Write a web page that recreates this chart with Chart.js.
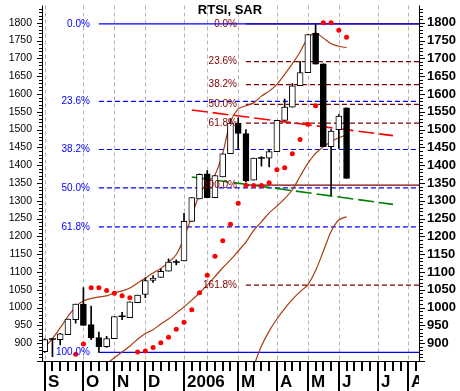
<!DOCTYPE html>
<html>
<head>
<meta charset="utf-8">
<script src="https://cdn.jsdelivr.net/npm/chart.js@4.4.1/dist/chart.umd.min.js"></script>
<style>
  html, body { margin: 0; padding: 0; background: #fff; }
  canvas { display: block; }
</style>
</head>
<body>
<canvas id="chart" width="460" height="391"></canvas>
<script>
// RTSI weekly candles, Sep 2005 - Jun 2006 (index = week)
const opens  = [876, 912, 910, 924, 966, 1010, 952, 916, 890, 913, 976, 972, 1014, 1037, 1076, 1085, 1102, 1128, 1131, 1242,
                1305, 1376, 1309, 1367, 1432, 1518, 1489, 1358, 1420, 1420, 1438, 1526, 1563, 1623, 1660, 1770, 1685, 1452, 1500, 1561];
const highs  = [912, 914, 928, 968, 1010, 1056, 1004, 931, 919, 975, 987, 1016, 1035, 1083, 1090, 1108, 1137, 1134, 1265, 1309,
                1376, 1385, 1371, 1432, 1530, 1533, 1500, 1420, 1424, 1443, 1526, 1586, 1629, 1692, 1767, 1796, 1685, 1500, 1542, 1561];
const lows   = [874, 862, 895, 924, 956, 950, 910, 874, 888, 913, 966, 972, 1014, 1028, 1071, 1085, 1102, 1120, 1131, 1242,
                1305, 1309, 1309, 1367, 1432, 1445, 1352, 1358, 1397, 1395, 1438, 1526, 1563, 1623, 1660, 1684, 1452, 1316, 1447, 1363];
const closes = [910, 912, 926, 968, 1010, 950, 915, 890, 913, 975, 976, 1016, 1035, 1076, 1083, 1102, 1128, 1128, 1242, 1309,
                1374, 1309, 1371, 1432, 1518, 1489, 1356, 1420, 1420, 1438, 1526, 1563, 1623, 1660, 1767, 1684, 1452, 1496, 1538, 1363];

// parabolic SAR
const sar = [null, null, null, null, 869, 898, 1056, 1056, 1048, 1040, 1033, 1028, 875, 878, 888, 901, 917, 939, 959, 994,
             1042, 1091, 1144, 1188, 1234, 1293, 1343, 1343, 1343, 1351, 1387, 1393, 1432, 1472, 1515, 1567, 1800, 1800, 1779, 1759];

// the three brown curves
const lineFast = [889, 913, 943, 975, 1002, 1019, 1026, 1030, 1033, 1041, 1047, 1055, 1069, 1083, 1097, 1110, 1127, 1149, 1196, 1257,
                  1318, 1351, 1373, 1434, 1522, 1558, 1567, 1575, 1594, 1608, 1627, 1655, 1685, 1718, 1757, 1771, 1757, 1741, 1734, 1730];
const lineMid  = [null, null, null, null, null, null, null, null, 843, 859, 875, 892, 911, 927, 938, 954, 968, 985, 1002, 1021,
                  1041, 1063, 1087, 1112, 1134, 1159, 1184, 1217, 1241, 1266, 1285, 1306, 1331, 1369, 1405, 1433, 1452, 1466, 1477, 1485];
const lineSlow = [null, null, null, null, null, null, null, null, null, null, null, null, null, null, null, null, null, null, null, null,
                  null, null, null, null, null, null, null, 836, 892, 934, 968, 997, 1023, 1045, 1064, 1104, 1158, 1214, 1246, 1255];

// trend lines (week, price)
const redTrend   = [{x: 19, y: 1555}, {x: 45, y: 1483}];
const greenTrend = [{x: 19, y: 1367}, {x: 45, y: 1290}];

// fibonacci levels
const blueFibLabels = ['0.0%', '23.6%', '38.2%', '50.0%', '61.8%', '100.0%'];
const blueFib       = [1797, 1579, 1444, 1336, 1227, 874];
const redFibLabels  = ['0.0%', '23.6%', '38.2%', '50.0%', '61.8%', '100.0%', '161.8%'];
const redFib        = [1797, 1691, 1626, 1571, 1518, 1344, 1063];
const blueFibStart = 7;
const redFibStart = 26;

// axes
const monthStarts = [0, 5, 9, 13, 18, 21, 25, 30, 34, 38, 43, 47];
const monthLabels = ['S', 'O', 'N', 'D', '2006', '', 'M', 'A', 'M', 'J', 'J', 'A'];
const priceTicks = [900, 950, 1000, 1050, 1100, 1150, 1200, 1250, 1300, 1350, 1400, 1450, 1500, 1550, 1600, 1650, 1700, 1750, 1800];
const weekCount = 49;

const X_MIN = -0.35, X_MAX = 48.36;
const Y_MIN = 850, Y_MAX = 1848.5;
const BROWN = '#a83c10';
const DARKRED = '#800000';

Chart.defaults.font.family = 'Arial, "Liberation Sans", sans-serif';

const weeks = closes.map((c, i) => i);
const bodies = weeks.filter(i => opens[i] !== closes[i]).map(i => ({x: i, y: [opens[i], closes[i]]}));
const dojis = weeks.filter(i => opens[i] === closes[i]).map(i => ({x: i, y: closes[i]}));
const wicks = weeks.map(i => ({x: i, y: [lows[i], highs[i]]}));
const toPoints = arr => arr.map((v, i) => ({x: i, y: v}));

function fibDatasets(levels, start, color) {
    return levels.map((lvl, k) => ({
        type: 'line',
        data: [{x: start, y: lvl}, {x: X_MAX, y: lvl}],
        borderColor: color,
        borderWidth: (k === 0 || lvl === levels[levels.length - 1] || (color === DARKRED && k === 5)) ? 1.2 : 1.2,
        borderDash: (k === 0 || (color === DARKRED ? k === 5 : k === levels.length - 1)) ? [] : [5, 3],
        pointRadius: 0,
        order: 6
    }));
}

const decor = {
    id: 'decor',
    beforeDatasetsDraw(chart) {
        const {ctx, chartArea: a} = chart;
        const x = chart.scales.x;
        ctx.save();
        ctx.strokeStyle = '#b4b4b4';
        ctx.lineWidth = 1;
        ctx.setLineDash([4, 3]);
        monthStarts.forEach(i => {
            const px = Math.round(x.getPixelForValue(i)) + 0.5;
            ctx.beginPath();
            ctx.moveTo(px, a.top);
            ctx.lineTo(px, a.bottom);
            ctx.stroke();
        });
        ctx.restore();
    },
    afterDatasetsDraw(chart) {
        const {ctx} = chart;
        const x = chart.scales.x, y = chart.scales.y;
        ctx.save();
        ctx.font = '10px Arial, "Liberation Sans"';
        ctx.textAlign = 'right';
        ctx.textBaseline = 'middle';
        ctx.fillStyle = '#0000ff';
        blueFib.forEach((v, k) => ctx.fillText(blueFibLabels[k], x.getPixelForValue(blueFibStart) - 9, y.getPixelForValue(v)));
        ctx.fillStyle = DARKRED;
        redFib.forEach((v, k) => ctx.fillText(redFibLabels[k], x.getPixelForValue(redFibStart) - 9, y.getPixelForValue(v)));
        ctx.fillStyle = '#000';
        ctx.font = 'bold 13px Arial, "Liberation Sans"';
        ctx.textAlign = 'center';
        ctx.fillText('RTSI, SAR', chart.width / 2, 10);
        ctx.restore();
    },
    afterDraw(chart) {
        const {ctx, chartArea: a} = chart;
        const x = chart.scales.x, y = chart.scales.y;
        ctx.save();
        ctx.strokeStyle = '#000';
        ctx.lineWidth = 1;
        // frame
        ctx.beginPath();
        ctx.moveTo(a.left + 0.5, a.top); ctx.lineTo(a.left + 0.5, a.bottom + 1);
        ctx.moveTo(a.right + 0.5, a.top); ctx.lineTo(a.right + 0.5, a.bottom + 1);
        ctx.moveTo(a.left, a.bottom + 0.5); ctx.lineTo(a.right + 1, a.bottom + 0.5);
        ctx.stroke();
        // price ticks every 10
        ctx.beginPath();
        for (let v = Y_MIN; v < Y_MAX; v += 10) {
            const py = Math.round(y.getPixelForValue(v)) + 0.5;
            const major = v % 50 === 0;
            ctx.moveTo(a.left - (major ? 5 : 3), py); ctx.lineTo(a.left, py);
            ctx.moveTo(a.right + 1, py); ctx.lineTo(a.right + (major ? 6 : 4), py);
        }
        ctx.stroke();
        // week ticks and month separators
        ctx.lineWidth = 2;
        ctx.beginPath();
        for (let i = 0; i < weekCount; i++) {
            const px = Math.round(x.getPixelForValue(i));
            if (px > a.right) continue;
            ctx.moveTo(px, a.bottom); ctx.lineTo(px, a.bottom + 10);
        }
        monthStarts.forEach((i, k) => {
            if (!monthLabels[k]) return;
            const px = Math.round(x.getPixelForValue(i));
            ctx.moveTo(px, a.bottom); ctx.lineTo(px, chart.height);
        });
        ctx.stroke();
        ctx.beginPath();
        ctx.rect(a.left, a.bottom, a.right - a.left, chart.height - a.bottom);
        ctx.clip();
        ctx.fillStyle = '#000';
        ctx.font = 'bold 17px Arial, "Liberation Sans"';
        ctx.textAlign = 'left';
        ctx.textBaseline = 'alphabetic';
        monthStarts.forEach((i, k) => {
            ctx.fillText(monthLabels[k], Math.round(x.getPixelForValue(i)) + 3, chart.height - 4);
        });
        ctx.restore();
    }
};

new Chart(document.getElementById('chart'), {
    type: 'bar',
    data: {
        datasets: [
            {
                type: 'line', data: toPoints(sar), showLine: false,
                pointRadius: 2.5, pointBackgroundColor: '#ff0000', pointBorderWidth: 0, order: 0
            },
            {
                type: 'line', data: dojis, showLine: false, pointStyle: 'line',
                pointRadius: 3.5, pointBorderColor: '#000', pointBorderWidth: 1.5, order: 1
            },
            {
                data: bodies, grouped: false, barThickness: 6,
                backgroundColor: c => (c.raw && c.raw.y[1] < c.raw.y[0]) ? '#000' : '#fff',
                borderColor: '#000', borderWidth: 1, borderSkipped: false, order: 2
            },
            {
                data: wicks, grouped: false, barThickness: 1,
                backgroundColor: '#000', borderWidth: 0, order: 3
            },
            {type: 'line', data: toPoints(lineFast), borderColor: BROWN, borderWidth: 1.2, pointRadius: 0, tension: 0.3, order: 4},
            {type: 'line', data: toPoints(lineMid), borderColor: BROWN, borderWidth: 1.2, pointRadius: 0, tension: 0.3, order: 4},
            {type: 'line', data: toPoints(lineSlow), borderColor: BROWN, borderWidth: 1.2, pointRadius: 0, tension: 0.3, order: 4},
            {type: 'line', data: redTrend, borderColor: '#ff0000', borderWidth: 1.6, borderDash: [16, 5], pointRadius: 0, order: 5},
            {type: 'line', data: greenTrend, borderColor: '#008000', borderWidth: 1.6, borderDash: [16, 5], pointRadius: 0, order: 5},
            ...fibDatasets(blueFib, blueFibStart, '#0000ff'),
            ...fibDatasets(redFib, redFibStart, DARKRED)
        ]
    },
    options: {
        responsive: false,
        animation: false,
        events: [],
        layout: {padding: {top: 0, bottom: 30, left: 0, right: 0}},
        plugins: {legend: {display: false}, tooltip: {enabled: false}},
        scales: {
            x: {type: 'linear', display: false, min: X_MIN, max: X_MAX, offset: false},
            y: {
                position: 'left', min: Y_MIN, max: Y_MAX,
                afterBuildTicks: s => { s.ticks = priceTicks.map(v => ({value: v})); },
                afterFit: s => { s.width = 42; s.paddingTop = 0; s.paddingBottom = 0; },
                grid: {display: false, drawTicks: false},
                border: {display: false},
                ticks: {padding: 10, color: '#000', autoSkip: false, font: {size: 10.5}, callback: v => String(v)}
            },
            y2: {
                position: 'right', min: Y_MIN, max: Y_MAX,
                afterBuildTicks: s => { s.ticks = priceTicks.map(v => ({value: v})); },
                afterFit: s => { s.width = 41; s.paddingTop = 0; s.paddingBottom = 0; },
                grid: {display: false, drawTicks: false},
                border: {display: false},
                ticks: {padding: 8, color: '#000', autoSkip: false, font: {size: 13, weight: 'bold'}, callback: v => String(v)}
            }
        }
    },
    plugins: [decor]
});
</script>
</body>
</html>
